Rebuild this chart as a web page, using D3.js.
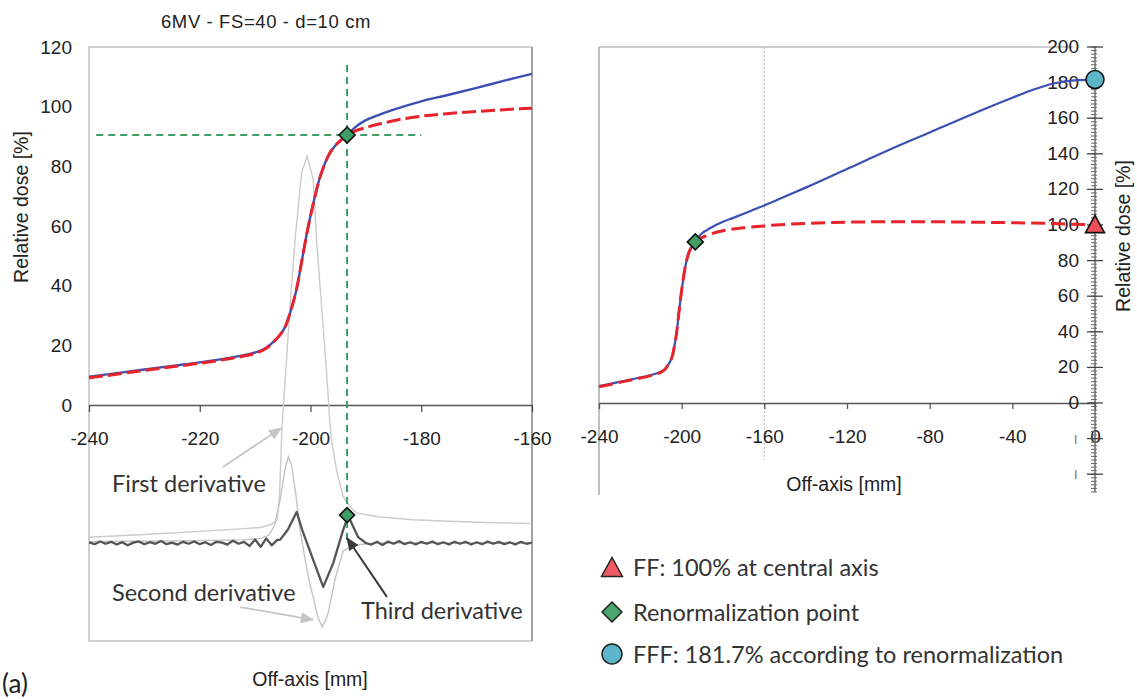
<!DOCTYPE html>
<html>
<head>
<meta charset="utf-8">
<script src="https://cdn.jsdelivr.net/npm/d3@7"></script>
<style>
  body { margin: 0; background: #fff; }
  svg { display: block; }
</style>
</head>
<body>
<svg id="chart" width="1137" height="699"></svg>
<script>
// off-axis positions [mm], shared by both dose profiles
const offAxis = [-240, -235, -230, -225, -220, -215, -212, -210, -208, -206.5, -205.5, -204.5, -203.5, -202.5,
  -201.5, -200.5, -199.5, -198.5, -197.5, -196.5, -195.5, -194.5, -193.4, -192, -190, -188, -185, -180,
  -175, -170, -165, -160, -150, -140, -120, -100, -80, -60, -40, -30, -20, -10, 0]
// FFF profile, renormalized
const doseFFF = [9.5, 10.7, 11.9, 13.1, 14.3, 15.7, 16.7, 17.6, 19.2, 21.5, 23.5, 26.5, 32, 39,
  49, 59, 67.5, 75, 80.5, 84.5, 87, 88.8, 90.5, 93, 95.5, 97, 99, 101.8,
  104, 106.3, 108.7, 111, 116, 121, 131.5, 142, 152, 162, 171.5, 176, 179.5, 181.3, 181.7]
// FF profile
const doseFF = [9.1, 10.3, 11.6, 12.8, 14.0, 15.4, 16.4, 17.3, 19.0, 21.5, 23.5, 26.5, 32, 39,
  49, 59, 67.5, 75, 80.5, 84.5, 87, 88.8, 90.5, 91.8, 93, 94, 95.3, 96.8,
  97.7, 98.4, 99, 99.5, 100.3, 100.9, 101.6, 101.8, 101.8, 101.6, 101.3, 101.1, 100.8, 100.4, 100]

// derivatives (arbitrary units, first derivative peak = 1)
const d1X = [-240, -230, -220, -212, -209, -207, -206, -205.6, -205.2, -204.9, -204.3, -203.7, -202.8, -201.6,
  -200.6, -199.5, -198.9, -198.0, -197.1, -196.5, -196.2, -195.2, -194.1, -192.8, -191.6, -187.4, -181.5, -175, -168, -160]
const d1Y = [0.015, 0.022, 0.03, 0.037, 0.04, 0.048, 0.06, 0.12, 0.28, 0.35, 0.48, 0.61, 0.78, 0.955,
  0.997, 0.936, 0.78, 0.61, 0.44, 0.31, 0.265, 0.18, 0.12, 0.092, 0.077, 0.067, 0.06, 0.056, 0.053, 0.05]

const d2X = [-240, -225, -212, -209, -207.5, -206.5, -205.5, -204.6, -204.0, -203.4, -202.6, -201.9, -201, -200.2,
  -199.5, -198.7, -197.9, -197.3, -196.8, -195.5, -194.1, -192, -188, -175, -160]
const d2Y = [0.004, 0.005, 0.008, 0.012, 0.02, 0.045, 0.11, 0.19, 0.222, 0.2, 0.12, 0.035, -0.04, -0.1,
  -0.14, -0.19, -0.216, -0.2, -0.18, -0.09, -0.02, -0.005, 0.0, 0.0, 0.0]

const d3NoiseLeftX = d3.range(-240, -205.5, 1)
const d3NoiseLeft = [0.002, -0.003, 0.004, -0.002, 0.003, -0.004, 0.002, -0.006, 0.001, 0.004, -0.003, 0.002,
  -0.002, 0.005, -0.003, 0.001, -0.004, 0.003, -0.002, 0.004, -0.003, 0.002, -0.005, 0.003, 0.001, -0.004,
  0.006, -0.002, 0.003, -0.008, 0.009, -0.01, 0.012, -0.006, 0.008]
const d3PeakX = [-205.5, -204.1, -202.5, -201.5, -199.5, -197.7, -195.9, -194.1, -193.2, -191.4, -190]
const d3Peak = [0.008, 0.034, 0.08, 0.034, -0.044, -0.113, -0.052, 0.034, 0.07, 0.015, 0.0]
const d3NoiseRightX = d3.range(-189, -159.5, 1)
const d3NoiseRight = [-0.004, 0.003, -0.005, 0.004, -0.002, 0.005, -0.003, 0.002, -0.004, 0.003, -0.002, 0.004,
  -0.003, 0.002, -0.004, 0.003, -0.002, 0.003, -0.004, 0.002, -0.003, 0.004, -0.002, 0.003, -0.003, 0.002,
  -0.004, 0.003, -0.002, 0.001]
const d3X = d3NoiseLeftX.concat(d3PeakX, d3NoiseRightX)
const d3Y = d3NoiseLeft.concat(d3Peak, d3NoiseRight)

// renormalization point, FF / FFF values at central axis
const renormX = -193.4
const renormDose = 90.5
const renormD3 = 0.072
const ffCentral = 100
const fffCentral = 181.7

const leftXTicks = [-240, -220, -200, -180, -160]
const leftYTicks = [0, 20, 40, 60, 80, 100, 120]
const rightXTicks = [-240, -200, -160, -120, -80, -40, 0]
const rightYTicks = [0, 20, 40, 60, 80, 100, 120, 140, 160, 180, 200]

const annoLabels = ['First derivative', 'Second derivative', 'Third derivative']
const arrowFrom = [[-215.8, 0.196], [-212.7, -0.165], [-186.2, -0.139]]
const arrowTo = [[-205.3, 0.296], [-199.55, -0.198], [-193.4, 0.013]]

const legendLabels = ['FF: 100% at central axis', 'Renormalization point', 'FFF: 181.7% according to renormalization']

const blue = '#3b50b2'
const red = '#e8232c'
const green = '#3f9d66'
const numFont = 'Liberation Sans, Arial, sans-serif'
const noteFont = 'Lato, Open Sans, sans-serif'
const plain = d => String(d)

const svg = d3.select('#chart')
const defs = svg.append('defs')

const xL = d3.scaleLinear().domain([-240, -160]).range([89, 532])
const yL = d3.scaleLinear().domain([0, 120]).range([405, 47])
const yD = d3.scaleLinear().domain([0, 1]).range([543, 155])
const xR = d3.scaleLinear().domain([-240, 0]).range([599, 1095])
const yR = d3.scaleLinear().domain([0, 200]).range([403, 47])

defs.append('clipPath').attr('id', 'clipL')
  .append('rect').attr('x', xL(-240)).attr('y', 0).attr('width', xL(-160) - xL(-240)).attr('height', 699)

function arrowHead(id, color) {
  defs.append('marker').attr('id', id)
    .attr('viewBox', '0 0 12 10').attr('refX', 11).attr('refY', 5)
    .attr('markerWidth', 14).attr('markerHeight', 11)
    .attr('markerUnits', 'userSpaceOnUse').attr('orient', 'auto')
    .append('path').attr('d', 'M0,0L12,5L0,10Z').attr('fill', color)
}
arrowHead('arrLight', '#c4c4c4')
arrowHead('arrDark', '#3a3a3a')

const diamond = r => `M0,${-r}L${r},0L0,${r}L${-r},0Z`
const triangle = r => `M0,${-r}L${r},${r * 0.8}L${-r},${r * 0.8}Z`

// ---------- left panel ----------
const L = svg.append('g')

L.append('rect')
  .attr('x', xL(-240)).attr('y', 47)
  .attr('width', xL(-160) - xL(-240)).attr('height', 641 - 47)
  .attr('fill', 'none').attr('stroke', '#b8b8b8').attr('stroke-width', 1.3)
L.append('line')
  .attr('x1', xL(-160)).attr('x2', xL(-160)).attr('y1', 47).attr('y2', 641)
  .attr('stroke', '#8a8a8a').attr('stroke-width', 1.3)

const xAxisL = L.append('g').attr('transform', `translate(0,${yL(0)})`)
  .call(d3.axisBottom(xL).tickValues(leftXTicks).tickSize(7).tickSizeOuter(0).tickPadding(20).tickFormat(plain))
xAxisL.select('.domain').attr('stroke', '#555').attr('stroke-width', 1.4)
xAxisL.selectAll('.tick line').attr('stroke', '#555').attr('stroke-width', 1.3)
xAxisL.selectAll('text').attr('font-family', numFont).attr('font-size', 19).attr('fill', '#222')

const yAxisL = L.append('g').attr('transform', `translate(${xL(-240)},0)`)
  .call(d3.axisLeft(yL).tickValues(leftYTicks).tickSize(0).tickPadding(17).tickFormat(plain))
yAxisL.select('.domain').remove()
yAxisL.selectAll('text').attr('font-family', numFont).attr('font-size', 19).attr('fill', '#222')

const plotL = L.append('g').attr('clip-path', 'url(#clipL)')

const derivLine = (xs, ys) => d3.line().x((d, i) => xL(xs[i])).y(d => yD(d))(ys)

plotL.append('path').attr('d', derivLine(d1X, d1Y))
  .attr('fill', 'none').attr('stroke', '#cbcbcb').attr('stroke-width', 1.4)
plotL.append('path').attr('d', derivLine(d2X, d2Y))
  .attr('fill', 'none').attr('stroke', '#c4c4c4').attr('stroke-width', 1.4)
plotL.append('path').attr('d', derivLine(d3X, d3Y))
  .attr('fill', 'none').attr('stroke', '#555').attr('stroke-width', 2.3).attr('stroke-linejoin', 'round')

// renormalization guides
plotL.append('line')
  .attr('x1', xL(-238.7)).attr('x2', xL(-180)).attr('y1', yL(renormDose)).attr('y2', yL(renormDose))
  .attr('stroke', green).attr('stroke-width', 2).attr('stroke-dasharray', '7,5')
plotL.append('line')
  .attr('x1', xL(renormX)).attr('x2', xL(renormX)).attr('y1', yL(114)).attr('y2', yD(0))
  .attr('stroke', green).attr('stroke-width', 2).attr('stroke-dasharray', '7,5')

const doseLineL = ys => d3.line().curve(d3.curveMonotoneX).x((d, i) => xL(offAxis[i])).y(d => yL(d))(ys)
plotL.append('path').attr('d', doseLineL(doseFFF))
  .attr('fill', 'none').attr('stroke', blue).attr('stroke-width', 2.4)
plotL.append('path').attr('d', doseLineL(doseFF))
  .attr('fill', 'none').attr('stroke', red).attr('stroke-width', 3).attr('stroke-dasharray', '14,5')

L.append('path').attr('d', diamond(8))
  .attr('transform', `translate(${xL(renormX)},${yL(renormDose)})`)
  .attr('fill', green).attr('stroke', '#111').attr('stroke-width', 1.6)
L.append('path').attr('d', diamond(7.5))
  .attr('transform', `translate(${xL(renormX)},${yD(renormD3)})`)
  .attr('fill', green).attr('stroke', '#111').attr('stroke-width', 1.6)

// annotation arrows
const arrowColors = ['#c4c4c4', '#c4c4c4', '#3a3a3a']
const arrowIds = ['arrLight', 'arrLight', 'arrDark']
arrowFrom.forEach((f, i) => {
  L.append('line')
    .attr('x1', xL(f[0])).attr('y1', yD(f[1]))
    .attr('x2', xL(arrowTo[i][0])).attr('y2', yD(arrowTo[i][1]))
    .attr('stroke', arrowColors[i]).attr('stroke-width', i === 2 ? 2 : 1.8)
    .attr('marker-end', `url(#${arrowIds[i]})`)
})
const annoPos = [[112, 483], [112, 592], [361, 610]]
annoLabels.forEach((t, i) => {
  L.append('text').attr('x', annoPos[i][0]).attr('y', annoPos[i][1])
    .attr('dominant-baseline', 'central')
    .attr('font-family', noteFont).attr('font-size', 23.5).attr('fill', '#333')
    .text(t)
})

L.append('text').attr('x', 266).attr('y', 21).attr('text-anchor', 'middle').attr('dominant-baseline', 'central')
  .attr('font-family', numFont).attr('font-size', 18.5).attr('letter-spacing', 0.6).attr('fill', '#222')
  .text('6MV - FS=40 - d=10 cm')
L.append('text').attr('transform', 'translate(21,207) rotate(-90)')
  .attr('text-anchor', 'middle').attr('dominant-baseline', 'central')
  .attr('font-family', numFont).attr('font-size', 19.5).attr('fill', '#222')
  .text('Relative dose [%]')
L.append('text').attr('x', 310).attr('y', 679).attr('text-anchor', 'middle').attr('dominant-baseline', 'central')
  .attr('font-family', numFont).attr('font-size', 19.5).attr('fill', '#222')
  .text('Off-axis [mm]')

// ---------- right panel ----------
const R = svg.append('g')

R.append('line').attr('x1', xR(-240)).attr('x2', 1073).attr('y1', yR(200)).attr('y2', yR(200))
  .attr('stroke', '#bcbcbc').attr('stroke-width', 1.3)
R.append('line').attr('x1', xR(-240)).attr('x2', xR(-240)).attr('y1', yR(200)).attr('y2', 495)
  .attr('stroke', '#9a9a9a').attr('stroke-width', 1.3)
R.append('line').attr('x1', xR(-160)).attr('x2', xR(-160)).attr('y1', yR(200)).attr('y2', 460)
  .attr('stroke', '#bdbdbd').attr('stroke-width', 1).attr('stroke-dasharray', '2,2')

const xAxisR = R.append('g').attr('transform', `translate(0,${yR(0)})`)
  .call(d3.axisBottom(xR).tickValues(rightXTicks).tickSize(6).tickSizeOuter(0).tickPadding(21).tickFormat(plain))
xAxisR.select('.domain').attr('stroke', '#555').attr('stroke-width', 1.4)
xAxisR.selectAll('.tick line').attr('stroke', '#555').attr('stroke-width', 1.3)
xAxisR.selectAll('text').attr('font-family', numFont).attr('font-size', 19).attr('fill', '#222')

// right-hand dose axis, drawn at x = 0
const ax = xR(0)
const yAxisR = R.append('g')
yAxisR.append('line').attr('x1', ax).attr('x2', ax).attr('y1', yR(200)).attr('y2', yR(-50))
  .attr('stroke', '#555').attr('stroke-width', 1.3)
yAxisR.selectAll('.minor').data(d3.range(-50, 201, 2)).enter().append('line')
  .attr('x1', ax - 4).attr('x2', ax + 2).attr('y1', d => yR(d)).attr('y2', d => yR(d))
  .attr('stroke', '#666').attr('stroke-width', 1)
yAxisR.selectAll('.major').data(d3.range(-40, 201, 20)).enter().append('line')
  .attr('x1', ax - 8).attr('x2', ax + 8).attr('y1', d => yR(d)).attr('y2', d => yR(d))
  .attr('stroke', '#444').attr('stroke-width', 1.3)
yAxisR.selectAll('.lab').data(rightYTicks).enter().append('text')
  .attr('x', ax - 16).attr('y', d => yR(d)).attr('dy', '0.32em').attr('text-anchor', 'end')
  .attr('font-family', numFont).attr('font-size', 19).attr('fill', '#222')
  .text(d => d)
yAxisR.selectAll('.cut').data([-20, -40]).enter().append('text')
  .attr('x', ax - 17).attr('y', d => yR(d)).attr('dy', '0.32em').attr('text-anchor', 'end')
  .attr('font-family', numFont).attr('font-size', 16).attr('fill', '#888')
  .text('ı')

const doseLineR = ys => d3.line().curve(d3.curveMonotoneX).x((d, i) => xR(offAxis[i])).y(d => yR(d))(ys)
R.append('path').attr('d', doseLineR(doseFFF))
  .attr('fill', 'none').attr('stroke', blue).attr('stroke-width', 2.2)
R.append('path').attr('d', doseLineR(doseFF))
  .attr('fill', 'none').attr('stroke', red).attr('stroke-width', 3).attr('stroke-dasharray', '14,6')

R.append('path').attr('d', diamond(8))
  .attr('transform', `translate(${xR(renormX)},${yR(renormDose)})`)
  .attr('fill', green).attr('stroke', '#111').attr('stroke-width', 1.6)
R.append('path').attr('d', triangle(9.5))
  .attr('transform', `translate(${xR(0)},${yR(ffCentral)})`)
  .attr('fill', '#ef4f5a').attr('stroke', '#111').attr('stroke-width', 1.6)
R.append('circle').attr('cx', xR(0)).attr('cy', yR(fffCentral)).attr('r', 9)
  .attr('fill', '#5cb5c9').attr('stroke', '#111').attr('stroke-width', 1.6)

R.append('text').attr('x', 844).attr('y', 484).attr('text-anchor', 'middle').attr('dominant-baseline', 'central')
  .attr('font-family', numFont).attr('font-size', 19.5).attr('fill', '#222')
  .text('Off-axis [mm]')
R.append('text').attr('transform', 'translate(1123,236) rotate(-90)')
  .attr('text-anchor', 'middle').attr('dominant-baseline', 'central')
  .attr('font-family', numFont).attr('font-size', 19.5).attr('fill', '#222')
  .text('Relative dose [%]')

// ---------- legend ----------
const legY = [567, 612, 654]
const G = svg.append('g').attr('transform', 'translate(612,0)')
G.append('path').attr('d', triangle(10.5)).attr('transform', `translate(0,${legY[0] + 1})`)
  .attr('fill', '#ef5a63').attr('stroke', '#222').attr('stroke-width', 1.5)
G.append('path').attr('d', diamond(10)).attr('transform', `translate(0,${legY[1]})`)
  .attr('fill', '#4aa56f').attr('stroke', '#222').attr('stroke-width', 1.5)
G.append('circle').attr('cx', 0).attr('cy', legY[2]).attr('r', 10)
  .attr('fill', '#5cb5c9').attr('stroke', '#222').attr('stroke-width', 1.5)
legendLabels.forEach((t, i) => {
  G.append('text').attr('x', 21).attr('y', legY[i]).attr('dominant-baseline', 'central')
    .attr('font-family', noteFont).attr('font-size', 23.5).attr('fill', '#333')
    .text(t)
})

svg.append('text').attr('x', 2).attr('y', 683).attr('dominant-baseline', 'central')
  .attr('font-family', noteFont).attr('font-size', 26).attr('fill', '#222')
  .text('(a)')
</script>
</body>
</html>
